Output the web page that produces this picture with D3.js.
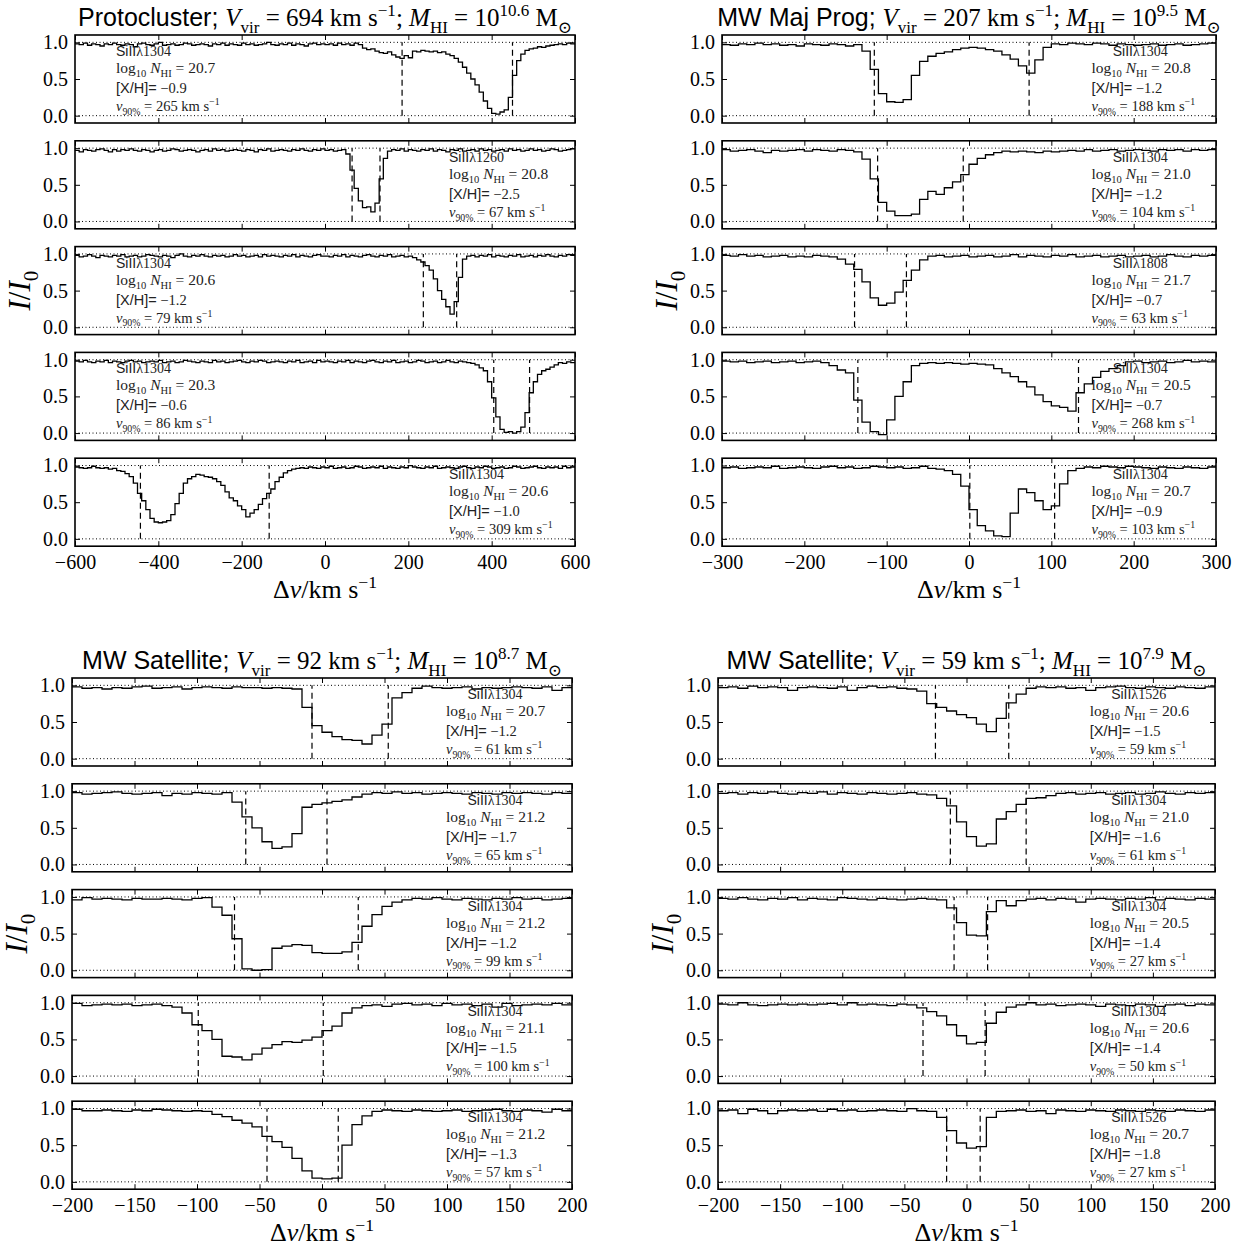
<!DOCTYPE html>
<html>
<head>
<meta charset="utf-8">
<script src="https://cdn.jsdelivr.net/npm/d3@7"></script>
<style>
  body { margin: 0; background: #fff; }
  svg text { white-space: pre; }
</style>
</head>
<body>
<svg id="fig" width="1238" height="1251"></svg>
<script>
// flux arrays are I/I0 in per cent, one value per velocity bin

// Protocluster: bins of 10 km/s from -600
const tl1 = [98,97,99,96,98,97,95,98,97,99, 97,96,98,97,94,98,99,97,96,98, 100,96,97,98,96,97,99,98,96,97, 98,97,95,98,97,99,96,98,97,96, 99,97,98,96,97,98,100,97,96,98, 97,99,96,98,97,95,98,99,97,98, 97,98,96,99,97,98,96,99,97,92, 90,91,88,86,85,87,83,80,78,82, 79,88,87,89,88,87,88,86,87,84, 82,78,73,66,58,50,42,32,20,10, 3,2,5,8,25,55,75,84,89,91, 92,94,93,95,96,97,98,97,99,98]
const tl2 = [97,95,98,97,96,98,99,97,95,98, 96,98,97,99,97,96,98,97,95,97, 98,96,97,99,98,96,97,98,97,95, 97,98,96,99,97,98,96,97,98,97, 96,98,97,95,98,97,99,96,97,98, 97,96,98,97,99,97,96,98,97,99, 97,98,96,97,98,92,70,45,28,19, 20,13,25,58,86,96,98,97,99,96, 98,97,96,98,97,99,96,98,97,95, 98,97,99,96,97,98,96,99,97,98, 96,97,98,96,99,97,98,96,97,99, 97,98,96,97,99,98,96,97,98,99]
const tl3 = [98,96,97,99,97,95,98,97,96,98, 97,99,96,97,98,96,97,99,98,97, 96,98,97,95,98,100,97,96,98,97, 99,97,96,98,97,98,96,97,99,97, 98,96,97,98,96,99,97,98,97,96, 98,97,99,96,98,97,96,98,99,97, 97,96,98,97,99,96,98,97,96,98, 99,97,96,98,97,99,96,97,98,96, 97,95,92,89,84,78,66,50,38,28, 18,35,68,93,97,98,96,98,97,99, 96,98,97,96,98,97,99,96,97,98, 96,98,97,99,97,96,98,97,99,98]
const tl4 = [98,97,99,97,96,98,97,99,96,98, 97,96,98,99,97,98,96,97,98,97, 99,96,97,98,96,97,99,98,97,96, 98,97,96,99,97,98,96,97,98,99, 97,96,98,97,99,98,96,97,98,97, 96,98,97,99,96,97,98,96,99,97, 98,97,96,98,97,99,96,98,97,96, 98,99,97,96,98,97,99,96,97,98, 96,97,99,98,96,97,98,96,97,99, 97,96,98,97,96,95,93,89,85,70, 48,22,5,1,2,0,2,8,28,55, 70,80,85,87,90,93,96,95,97,96]
const tl5 = [98,97,96,97,99,97,96,97,95,96, 93,92,89,85,76,62,52,40,28,23, 22,23,25,33,48,62,76,82,85,88, 87,85,84,82,78,73,64,56,52,45, 40,30,35,40,47,55,62,68,78,84, 90,93,95,96,97,96,98,97,96,98, 97,99,96,97,98,96,97,99,98,96, 97,98,97,99,96,98,97,96,98,97, 100,98,97,96,98,97,99,96,97,98, 97,96,98,99,97,96,98,97,99,98, 96,97,98,96,97,99,98,96,97,98, 99,97,96,98,97,98,96,99,97,98]

// MW Maj Prog: bins of 10 km/s from -300
const tr1 = [97,96,98,97,99,97,98,96,97,95, 98,97,96,98,97,95,97,88,63,30, 19,18,22,55,74,81,85,87,90,92, 93,92,90,88,83,77,68,58,76,93, 98,97,99,98,97,99,98,96,98,97, 96,97,98,96,97,98,96,97,98,99]
const tr2 = [98,96,97,98,96,94,97,96,97,98, 96,98,97,96,98,97,95,85,58,26, 14,8,8,10,30,41,37,46,54,64, 78,86,91,94,96,95,96,95,94,96, 95,96,97,96,98,96,97,98,96,97, 98,97,96,98,97,98,96,98,97,98]
const tr3 = [98,97,99,97,98,96,97,98,96,97, 96,98,97,96,93,86,79,62,40,30, 33,48,64,78,92,97,98,96,97,98, 96,97,98,96,97,99,96,98,97,96, 98,97,99,96,97,98,96,97,98,96, 97,98,96,97,99,97,96,98,97,98]
const tr4 = [98,97,98,96,97,98,96,97,98,96, 97,98,96,92,86,82,45,15,2,-2, 18,50,70,92,95,96,95,96,95,94, 95,94,93,88,82,77,70,63,52,43, 37,35,30,55,67,76,84,88,92,97, 98,96,97,98,96,97,99,97,98,97]
const tr5 = [97,98,96,97,98,97,99,96,97,98, 97,96,98,99,97,98,96,97,99,98, 97,98,96,97,99,96,95,93,88,72, 40,18,11,4,3,35,68,63,52,40, 45,75,93,96,98,97,99,98,97,99, 98,97,96,98,97,96,98,97,96,98]

// MW Satellite (92 km/s): bins of 8 km/s from -200
const bl1 = [98,96,97,95,97,96,98,99,96,97, 98,95,97,98,97,96,98,97,97,96, 97,96,95,70,45,36,30,26,25,20, 32,47,83,90,96,99,97,96,97,98, 95,97,96,97,98,97,96,98,93,97]
const bl2 = [98,96,97,98,99,97,96,97,98,94, 97,96,98,97,96,98,85,65,50,31, 22,24,42,78,82,84,86,88,92,96, 98,97,99,97,98,96,97,98,97,96, 98,97,96,98,97,98,97,96,98,97]
const bl3 = [96,99,97,98,97,96,98,97,97,98, 97,96,98,99,86,75,43,2,0,1, 30,33,35,34,24,23,23,25,38,60, 76,87,93,96,98,97,99,97,96,98, 97,96,98,97,99,97,98,96,97,98]
const bl4 = [99,96,97,98,97,98,96,97,98,96, 94,86,70,62,50,27,26,22,30,38, 43,47,46,49,53,62,68,86,93,96, 97,95,98,99,97,98,96,99,97,98, 96,98,94,99,96,97,98,97,99,97]
const bl5 = [99,97,97,98,97,96,98,97,99,98, 97,96,97,96,92,89,84,80,75,62, 55,47,32,15,5,4,5,50,78,90, 96,98,97,96,98,97,96,97,98,96, 97,98,99,97,96,98,97,95,99,97]

// MW Satellite (59 km/s): bins of 8 km/s from -200
const br1 = [97,98,96,99,97,98,97,93,97,98, 97,96,98,93,97,99,97,98,96,95, 92,75,70,65,60,56,47,37,55,76, 88,96,98,97,98,96,97,93,97,98, 99,97,96,98,97,96,98,97,96,98]
const br2 = [97,98,96,98,97,99,97,96,98,97, 99,96,98,97,96,98,97,96,97,98, 96,95,90,80,58,38,25,28,62,72, 82,90,91,94,97,98,96,97,98,96, 97,98,96,97,99,97,96,98,97,98]
const br3 = [98,97,99,97,96,98,97,99,96,98, 97,96,99,98,97,96,98,97,96,97, 98,97,96,85,65,48,47,80,95,88, 95,97,98,96,98,97,93,97,98,97, 96,98,97,99,96,98,97,96,98,97]
const br4 = [98,97,100,97,96,97,98,97,98,97, 98,99,97,100,97,98,97,96,98,97, 93,88,82,70,55,44,46,72,87,94, 97,100,97,98,96,97,98,97,95,98, 97,96,98,97,95,97,98,96,98,97]
const br5 = [97,98,93,99,97,93,97,98,97,98, 96,99,97,98,96,97,98,97,96,100, 97,96,88,70,53,46,48,88,96,97, 98,96,97,93,98,97,96,98,97,96, 98,97,96,98,97,96,98,97,96,98]

// panel annotations
const tlIons = [1304, 1260, 1304, 1304, 1304]
const tlLogN = [20.7, 20.8, 20.6, 20.3, 20.6]
const tlXH = [-0.9, -2.5, -1.2, -0.6, -1.0]
const tlV90 = [265, 67, 79, 86, 309]
const tlLo = [185, 65, 236, 405, -443]
const tlHi = [450, 132, 316, 491, -134]
const tlTicks = [-600, -400, -200, 0, 200, 400, 600]

const trIons = [1304, 1304, 1808, 1304, 1304]
const trLogN = [20.8, 21.0, 21.7, 20.5, 20.7]
const trXH = [-1.2, -1.2, -0.7, -0.7, -0.9]
const trV90 = [188, 104, 63, 268, 103]
const trLo = [-115, -111, -139, -135, 1]
const trHi = [73, -7, -76, 133, 104]
const trTicks = [-300, -200, -100, 0, 100, 200, 300]

const blIons = [1304, 1304, 1304, 1304, 1304]
const blLogN = [20.7, 21.2, 21.2, 21.1, 21.2]
const blXH = [-1.2, -1.7, -1.2, -1.5, -1.3]
const blV90 = [61, 65, 99, 100, 57]
const blLo = [-8, -61, -70, -99, -44]
const blHi = [53, 4, 29, 1, 13]

const brIons = [1526, 1304, 1304, 1304, 1526]
const brLogN = [20.6, 21.0, 20.5, 20.6, 20.7]
const brXH = [-1.5, -1.6, -1.4, -1.4, -1.8]
const brV90 = [59, 61, 27, 50, 27]
const brLo = [-25, -13, -10, -35, -16]
const brHi = [34, 48, 17, 15, 11]
const satTicks = [-200, -150, -100, -50, 0, 50, 100, 150, 200]

const SERIF = '"Liberation Serif", "DejaVu Serif", serif'
const SANS = '"Liberation Sans", Arial, sans-serif'
const H = 88, STEP = 105.8

const quadrants = [
  {name: "Protocluster", vvir: 694, logM: "10.6", flux: [tl1, tl2, tl3, tl4, tl5], v0: -600, dv: 10,
   ticks: tlTicks, ions: tlIons, logN: tlLogN, xh: tlXH, v90: tlV90, lo: tlLo, hi: tlHi,
   side: ["l", "r", "l", "l", "r"], x0: 75, x1: 575, top: 35, ionShift: 0},
  {name: "MW Maj Prog", vvir: 207, logM: "9.5", flux: [tr1, tr2, tr3, tr4, tr5], v0: -300, dv: 10,
   ticks: trTicks, ions: trIons, logN: trLogN, xh: trXH, v90: trV90, lo: trLo, hi: trHi,
   side: ["r", "r", "r", "r", "r"], x0: 722, x1: 1216, top: 35, ionShift: 0.043},
  {name: "MW Satellite", vvir: 92, logM: "8.7", flux: [bl1, bl2, bl3, bl4, bl5], v0: -200, dv: 8,
   ticks: satTicks, ions: blIons, logN: blLogN, xh: blXH, v90: blV90, lo: blLo, hi: blHi,
   side: ["r", "r", "r", "r", "r"], x0: 72, x1: 572, top: 678, ionShift: 0.043},
  {name: "MW Satellite", vvir: 59, logM: "7.9", flux: [br1, br2, br3, br4, br5], v0: -200, dv: 8,
   ticks: satTicks, ions: brIons, logN: brLogN, xh: brXH, v90: brV90, lo: brLo, hi: brHi,
   side: ["r", "r", "r", "r", "r"], x0: 718, x1: 1215, top: 678, ionShift: 0.043}
]

const svg = d3.select("#fig")
const fmt1 = d3.format(".1f")

// text with sub/superscripts made of tspans
const rich = (sel, segs, size) => {
    let shift = 0
    segs.forEach((s) => {
        const target = s.sub ? size * 0.26 : s.sup ? -size * 0.4 : 0
        const ts = sel.append("tspan")
            .attr("dy", target - shift)
            .attr("font-size", (s.sub || s.sup) ? size * 0.68 : size)
            .text(s.t)
        shift = target
        if (s.sans) ts.attr("font-family", SANS)
        if (s.it) ts.attr("font-style", "italic")
    })
    return sel
}

quadrants.forEach((q) => {
    const x = d3.scaleLinear()
        .domain([q.ticks[0], q.ticks[q.ticks.length - 1]])
        .range([q.x0, q.x1])
    const W = q.x1 - q.x0

    q.flux.forEach((f, k) => {
        const top = q.top + k * STEP
        const y = d3.scaleLinear().domain([-0.1, 1.1]).range([top + H, top])
        const g = svg.append("g")

        g.selectAll("line.ref")
            .data([0, 1])
            .join("line")
            .attr("class", "ref")
            .attr("x1", q.x0).attr("x2", q.x1)
            .attr("y1", (d) => y(d)).attr("y2", (d) => y(d))
            .attr("stroke", "#000")
            .attr("stroke-width", 1)
            .attr("stroke-dasharray", "1,2.5")

        const pts = f.map((v, i) => [q.v0 + i * q.dv, v / 100])
        pts.push([q.v0 + f.length * q.dv, f[f.length - 1] / 100])
        const spec = d3.line()
            .x((d) => x(d[0]))
            .y((d) => y(d[1]))
            .curve(d3.curveStepAfter)
        g.append("path")
            .attr("d", spec(pts))
            .attr("fill", "none")
            .attr("stroke", "#000")
            .attr("stroke-width", 1.3)

        g.selectAll("line.v90")
            .data([q.lo[k], q.hi[k]])
            .join("line")
            .attr("class", "v90")
            .attr("x1", (d) => x(d)).attr("x2", (d) => x(d))
            .attr("y1", y(0)).attr("y2", y(1))
            .attr("stroke", "#000")
            .attr("stroke-width", 1.2)
            .attr("stroke-dasharray", "6,4")

        const axis = (gen, tr) => g.append("g")
            .attr("transform", tr)
            .call(gen)
            .call((s) => s.select(".domain").remove())
            .attr("font-family", SERIF)
            .attr("font-size", 20)

        axis(d3.axisBottom(x).tickValues(q.ticks).tickSizeInner(-5).tickSizeOuter(0)
                .tickPadding(9).tickFormat(k === 4 ? d3.format("d") : () => ""),
            `translate(0,${top + H})`)
        axis(d3.axisTop(x).tickValues(q.ticks).tickSizeInner(-5).tickSizeOuter(0).tickFormat(() => ""),
            `translate(0,${top})`)
        axis(d3.axisLeft(y).tickValues([0, 0.5, 1]).tickSizeInner(-5).tickSizeOuter(0)
                .tickPadding(7).tickFormat(fmt1),
            `translate(${q.x0},0)`)
        axis(d3.axisRight(y).tickValues([0, 0.5, 1]).tickSizeInner(-5).tickSizeOuter(0).tickFormat(() => ""),
            `translate(${q.x1},0)`)

        g.append("rect")
            .attr("x", q.x0).attr("y", top)
            .attr("width", W).attr("height", H)
            .attr("fill", "none")
            .attr("stroke", "#000")
            .attr("stroke-width", 1.6)

        // annotation block
        const tx = q.side[k] === "l" ? q.x0 + 0.082 * W : q.x0 + 0.748 * W
        const shift = q.side[k] === "l" ? 0 : q.ionShift * W
        const blk = g.append("g").attr("font-family", SERIF).attr("fill", "#222")
        rich(blk.append("text").attr("x", tx + shift).attr("y", top + 21),
            [{t: "SiII", sans: true}, {t: "λ" + q.ions[k]}], 14)
        rich(blk.append("text").attr("x", tx).attr("y", top + 38),
            [{t: "log"}, {t: "10", sub: true}, {t: " "}, {t: "N", it: true}, {t: "HI", sub: true},
             {t: " = " + fmt1(q.logN[k])}], 15.5)
        rich(blk.append("text").attr("x", tx).attr("y", top + 58),
            [{t: "[X/H]=", sans: true}, {t: " " + fmt1(q.xh[k])}], 14.5)
        rich(blk.append("text").attr("x", tx).attr("y", top + 76),
            [{t: "v", it: true}, {t: "90%", sub: true}, {t: " = " + q.v90[k] + " km s"}, {t: "−1", sup: true}], 14.5)
    })

    const mid = (q.x0 + q.x1) / 2
    const bottom = q.top + 4 * STEP + H

    rich(svg.append("text")
            .attr("x", mid).attr("y", q.top - 9)
            .attr("text-anchor", "middle")
            .attr("font-family", SERIF),
        [{t: q.name + "; ", sans: true}, {t: "V", it: true}, {t: "vir", sub: true},
         {t: " = " + q.vvir + " km s"}, {t: "−1", sup: true}, {t: "; "},
         {t: "M", it: true}, {t: "HI", sub: true}, {t: " = 10"}, {t: q.logM, sup: true},
         {t: " M"}, {t: "⊙", sub: true}], 25)

    rich(svg.append("text")
            .attr("x", mid).attr("y", bottom + 52)
            .attr("text-anchor", "middle")
            .attr("font-family", SERIF),
        [{t: "Δ"}, {t: "v", it: true}, {t: "/km s"}, {t: "−1", sup: true}], 26)

    const yc = q.top + 2 * STEP + H / 2
    rich(svg.append("text")
            .attr("transform", `translate(${q.x0 - 45},${yc}) rotate(-90)`)
            .attr("text-anchor", "middle")
            .attr("font-family", SERIF),
        [{t: "I", it: true}, {t: "/"}, {t: "I", it: true}, {t: "0", sub: true}], 31)
})
</script>
</body>
</html>
